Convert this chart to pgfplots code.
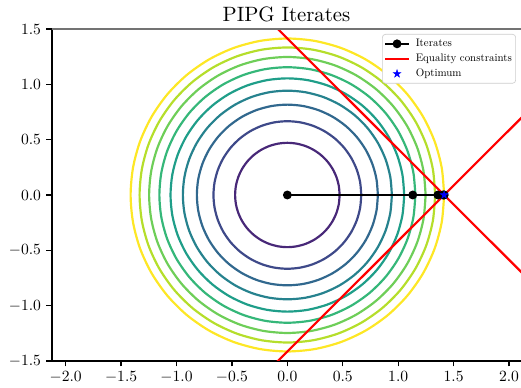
\documentclass[border=0pt]{standalone}
\usepackage{fontspec}
\usepackage{pgfplots}
\pgfplotsset{compat=1.18}
\usepackage{pgfplotstable}
\newfontfamily\tenfont{lmroman10-regular.otf}

\definecolor{v1}{RGB}{72,40,120}
\definecolor{v2}{RGB}{62,73,137}
\definecolor{v3}{RGB}{49,104,142}
\definecolor{v4}{RGB}{38,130,142}
\definecolor{v5}{RGB}{31,158,137}
\definecolor{v6}{RGB}{53,183,121}
\definecolor{v7}{RGB}{110,206,88}
\definecolor{v8}{RGB}{181,222,43}
\definecolor{v9}{RGB}{253,231,37}

\pgfdeclareplotmark{fstar}{%
  \pgfpathmoveto{\pgfpointpolar{90}{\pgfplotmarksize}}%
  \pgfpathlineto{\pgfpointpolar{126}{0.382\pgfplotmarksize}}%
  \pgfpathlineto{\pgfpointpolar{162}{\pgfplotmarksize}}%
  \pgfpathlineto{\pgfpointpolar{198}{0.382\pgfplotmarksize}}%
  \pgfpathlineto{\pgfpointpolar{234}{\pgfplotmarksize}}%
  \pgfpathlineto{\pgfpointpolar{270}{0.382\pgfplotmarksize}}%
  \pgfpathlineto{\pgfpointpolar{306}{\pgfplotmarksize}}%
  \pgfpathlineto{\pgfpointpolar{342}{0.382\pgfplotmarksize}}%
  \pgfpathlineto{\pgfpointpolar{18}{\pgfplotmarksize}}%
  \pgfpathlineto{\pgfpointpolar{54}{0.382\pgfplotmarksize}}%
  \pgfpathclose
  \pgfusepathqfillstroke}

% unit circle, 10 degree steps
\pgfplotstableread{
x y
1 0
0.9848 0.1736
0.9397 0.3420
0.8660 0.5000
0.7660 0.6428
0.6428 0.7660
0.5000 0.8660
0.3420 0.9397
0.1736 0.9848
0 1
-0.1736 0.9848
-0.3420 0.9397
-0.5000 0.8660
-0.6428 0.7660
-0.7660 0.6428
-0.8660 0.5000
-0.9397 0.3420
-0.9848 0.1736
-1 0
-0.9848 -0.1736
-0.9397 -0.3420
-0.8660 -0.5000
-0.7660 -0.6428
-0.6428 -0.7660
-0.5000 -0.8660
-0.3420 -0.9397
-0.1736 -0.9848
0 -1
0.1736 -0.9848
0.3420 -0.9397
0.5000 -0.8660
0.6428 -0.7660
0.7660 -0.6428
0.8660 -0.5000
0.9397 -0.3420
0.9848 -0.1736
1 0
}\unitcircle

\begin{document}
\begin{tikzpicture}
\useasboundingbox (-33.3pt,-17.3pt) rectangle (300.7pt,231.4pt);
\begin{axis}[
  at={(0,0)}, anchor=south west,
  scale only axis, width=300.7pt, height=212.8pt,
  xmin=-2.124, xmax=2.108, ymin=-1.5, ymax=1.5,
  xtick={-2,-1.5,-1,-0.5,0,0.5,1,1.5,2},
  ytick={-1.5,-1,-0.5,0,0.5,1,1.5},
  /pgf/number format/fixed,
  /pgf/number format/fixed zerofill,
  /pgf/number format/precision=1,
  tick label style={font=\fontsize{10}{12}\selectfont},
  axis x line*=bottom, axis y line*=left,
  tick align=outside, major tick length=3.5pt,
  tick style={black, line width=0.8pt},
  axis line style={line width=0.8pt},
  title={PIPG Iterates},
  every axis title shift=0pt,
  title style={font=\tenfont\fontsize{13.3}{16}\selectfont, at={(0.5,1)}, anchor=base, yshift=5.1pt, inner sep=0pt},
  legend style={at={(0.9893,0.985)}, anchor=north east,
    font=\tenfont\fontsize{7}{8.4}\selectfont, draw=black!20, rounded corners=2pt,
    fill=white, inner xsep=1.2pt, inner ysep=1.3pt, row sep=0pt, column sep=2.6pt,
    nodes={inner xsep=1.2pt, inner ysep=1.2pt, text height=5.6pt, text depth=1.6pt}},
  legend cell align=left,
  legend image code/.code={\draw[mark repeat=2,mark phase=2,#1] plot coordinates {(0pt,0pt) (7.5pt,0pt) (15pt,0pt)};},
  after end axis/.code={\draw[black!55, line width=0.8pt] (rel axis cs:0,1) -- (rel axis cs:1,1);},
]
\addplot[forget plot, smooth, v1, line width=1.4pt] table[x expr=0.4714*\thisrow{x}, y expr=0.4714*\thisrow{y}] {\unitcircle};
\addplot[forget plot, smooth, v2, line width=1.4pt] table[x expr=0.6667*\thisrow{x}, y expr=0.6667*\thisrow{y}] {\unitcircle};
\addplot[forget plot, smooth, v3, line width=1.4pt] table[x expr=0.8165*\thisrow{x}, y expr=0.8165*\thisrow{y}] {\unitcircle};
\addplot[forget plot, smooth, v4, line width=1.4pt] table[x expr=0.9428*\thisrow{x}, y expr=0.9428*\thisrow{y}] {\unitcircle};
\addplot[forget plot, smooth, v5, line width=1.4pt] table[x expr=1.0541*\thisrow{x}, y expr=1.0541*\thisrow{y}] {\unitcircle};
\addplot[forget plot, smooth, v6, line width=1.4pt] table[x expr=1.1547*\thisrow{x}, y expr=1.1547*\thisrow{y}] {\unitcircle};
\addplot[forget plot, smooth, v7, line width=1.4pt] table[x expr=1.2472*\thisrow{x}, y expr=1.2472*\thisrow{y}] {\unitcircle};
\addplot[forget plot, smooth, v8, line width=1.4pt] table[x expr=1.3333*\thisrow{x}, y expr=1.3333*\thisrow{y}] {\unitcircle};
\addplot[forget plot, smooth, v9, line width=1.4pt] table[x expr=1.4142*\thisrow{x}, y expr=1.4142*\thisrow{y}] {\unitcircle};

\addplot[black, line width=1.4pt, mark=*, mark size=2.1pt, mark options={solid, fill=black}]
  coordinates {(0,0) (1.1314,0) (1.3576,0) (1.4029,0) (1.4120,0) (1.4142,0)};
\addlegendentry{Iterates}
\addplot[red, line width=1.4pt] coordinates {(-0.2,1.6142) (2.3,-0.8858)};
\addlegendentry{Equality constraints}
\addplot[forget plot, red, line width=1.4pt] coordinates {(-0.2,-1.6142) (2.3,0.8858)};
\addplot[only marks, blue, mark=fstar, mark size=2.6pt, mark options={fill=blue, draw=blue, line width=0.3pt}]
  coordinates {(1.4142,0)};
\addlegendentry{Optimum}
\end{axis}
\end{tikzpicture}
\end{document}
